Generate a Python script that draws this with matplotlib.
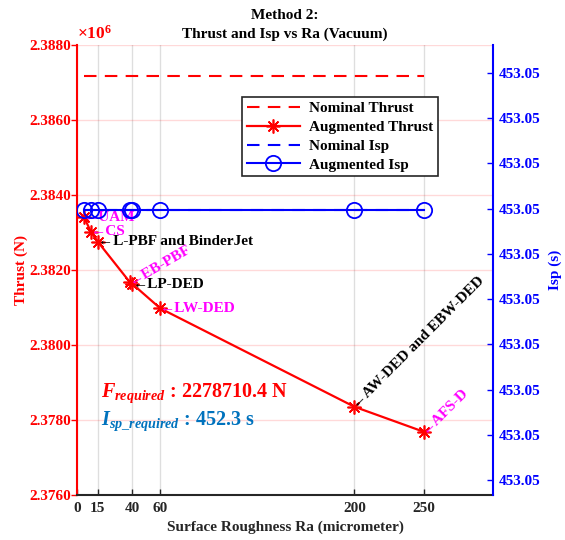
import matplotlib
matplotlib.use('Agg')
import matplotlib.pyplot as plt
from matplotlib.ticker import FuncFormatter

# ---------------- data ----------------
ra = [5, 10, 15, 38, 40, 60, 200, 250]
thrust_aug = [2383413, 2383021, 2382754, 2381680, 2381626, 2380978, 2378354, 2377687]
thrust_nominal = [2387173, 2387173, 2387173, 2387173, 2387173, 2387173, 2387173, 2387173]
isp_aug = [453.0500596, 453.0500596, 453.0500596, 453.0500596,
           453.0500596, 453.0500596, 453.0500596, 453.0500596]
isp_nominal = [453.0500596, 453.0500596, 453.0500596, 453.0500596,
               453.0500596, 453.0500596, 453.0500596, 453.0500596]
labels = ['UAM', 'CS', 'L-PBF and BinderJet', 'EB-PBF', 'LP-DED', 'LW-DED',
          'AW-DED and EBW-DED', 'AFS-D']
label_colors = ['magenta', 'magenta', 'black', 'magenta', 'black', 'magenta',
                'black', 'magenta']
label_rot = [0, 0, 0, 30, 0, 0, 45, 45]
x_ticks = [0, 15, 40, 60, 200, 250]
thrust_ticks = [2376000, 2378000, 2380000, 2382000, 2384000, 2386000, 2388000]
isp_ticks = [453.05000, 453.05001, 453.05002, 453.05003, 453.05004,
             453.05005, 453.05006, 453.05007, 453.05008, 453.05009]
F_required = 2278710.4
Isp_required = 452.3

# ---------------- style ----------------
SERIF = ['Liberation Serif', 'DejaVu Serif']
plt.rcParams['font.family'] = SERIF
plt.rcParams['font.weight'] = 'bold'
plt.rcParams['mathtext.fontset'] = 'custom'
plt.rcParams['mathtext.it'] = 'Liberation Serif:italic:bold'
plt.rcParams['mathtext.rm'] = 'Liberation Serif:bold'
plt.rcParams['mathtext.bf'] = 'Liberation Serif:bold'

RED = (1, 0, 0)
BLUE = (0, 0, 1)
DARK = (0.15, 0.15, 0.15)
MBLUE = (0, 0.447, 0.741)
FS = 11

fig = plt.figure(figsize=(5.65, 5.40), dpi=100)
ax = fig.add_axes([0.1363, 0.0833, 0.7363, 0.8334])
ax2 = ax.twinx()

# thrust (left)
l1, = ax.plot(ra, thrust_nominal, '--', color=RED, lw=1.5, dashes=(6, 4),
              label='Nominal Thrust')
l2, = ax.plot(ra, thrust_aug, '-', color=RED, lw=1.6, marker=(8, 2, 0),
              markersize=10, markeredgewidth=1.2, label='Augmented Thrust')
ax.set_xlim(0, 300)
ax.set_ylim(thrust_ticks[0], thrust_ticks[-1])
ax.set_xticks(x_ticks)
ax.set_yticks(thrust_ticks)
ax.yaxis.set_major_formatter(FuncFormatter(lambda v, p: f'{v/1e6:.4f}'))
ax.grid(axis='y', color=RED, alpha=0.15, lw=1.0)
ax.grid(axis='x', color=DARK, alpha=0.15, lw=1.0)
ax.set_axisbelow(True)

# isp (right)
l3, = ax2.plot(ra, isp_nominal, '--', color=BLUE, lw=1.5, dashes=(6, 4),
               label='Nominal Isp')
l4, = ax2.plot(ra, isp_aug, '-', color=BLUE, lw=1.5, marker='o',
               markersize=11, markerfacecolor='none', markeredgewidth=1.3,
               label='Augmented Isp')
step = isp_ticks[1] - isp_ticks[0]
ax2.set_ylim(isp_ticks[0] - 15 / 45.22 * step, isp_ticks[-1] + 28 / 45.22 * step)
ax2.set_yticks(isp_ticks)
ax2.yaxis.set_major_formatter(FuncFormatter(lambda v, p: f'{v:.2f}'))

# spines & ticks
for a in (ax, ax2):
    a.spines['top'].set_visible(False)
ax.spines['left'].set_color(RED)
ax.spines['left'].set_linewidth(1.5)
ax.spines['bottom'].set_color(DARK)
ax.spines['bottom'].set_linewidth(1.5)
ax.spines['right'].set_visible(False)
ax2.spines['left'].set_visible(False)
ax2.spines['bottom'].set_visible(False)
ax2.spines['right'].set_color(BLUE)
ax2.spines['right'].set_linewidth(1.5)

ax.tick_params(axis='y', colors=RED, direction='out', length=4, width=1,
               labelsize=FS, pad=0.5)
ax.tick_params(axis='x', colors=DARK, direction='in', length=4, width=1,
               labelsize=FS, pad=5)
ax2.tick_params(axis='y', colors=BLUE, direction='in', length=4, width=1,
                labelsize=FS, pad=4)
for lab in ax.get_yticklabels() + ax.get_xticklabels() + ax2.get_yticklabels():
    lab.set_fontweight('bold')

ax.set_ylabel('Thrust (N)', color=RED, fontsize=FS, fontweight='bold', labelpad=1)
ax2.set_ylabel('Isp (s)', color=BLUE, fontsize=FS, fontweight='bold', labelpad=6)
ax.set_xlabel('Surface Roughness Ra (micrometer)', color=DARK, fontsize=FS,
              fontweight='bold', labelpad=4)
ax.set_title('Method 2:\nThrust and Isp vs Ra (Vacuum)', fontsize=FS,
             fontweight='bold', color='black', pad=5, linespacing=1.6)
ax.text(0.0, 1.004, r'$\times\mathregular{10^{6}}$', transform=ax.transAxes,
        color=RED, fontsize=12.5, ha='left', va='bottom')

# point labels
for x, y, txt, c, r in zip(ra, thrust_aug, labels, label_colors, label_rot):
    ax.text(x, y, '\u2190' + txt, color=c, fontsize=FS, fontweight='bold',
            rotation=r, rotation_mode='anchor', ha='left', va='center',
            family=SERIF)

# required values
ax.text(17.5, 2378720, r'$F_{required}$' + f' : {F_required}' + ' N', color=RED,
        fontsize=14.5, fontweight='bold', ha='left', va='center')
ax.text(17.5, 2377960, r'$I_{sp\_required}$' + f' : {Isp_required}' + ' s',
        color=MBLUE, fontsize=14.5, fontweight='bold', ha='left', va='center')

leg = ax2.legend(handles=[l1, l2, l3, l4], loc='upper left',
                 bbox_to_anchor=(0.397, 0.884), borderaxespad=0, fontsize=FS,
                 handlelength=3.5, handletextpad=0.6, labelspacing=0.33,
                 fancybox=False, framealpha=1, edgecolor=(0.15, 0.15, 0.15),
                 borderpad=0.3)
leg.get_frame().set_linewidth(1.2)
for t in leg.get_texts():
    t.set_fontweight('bold')

fig.savefig('out.png', dpi=100)
